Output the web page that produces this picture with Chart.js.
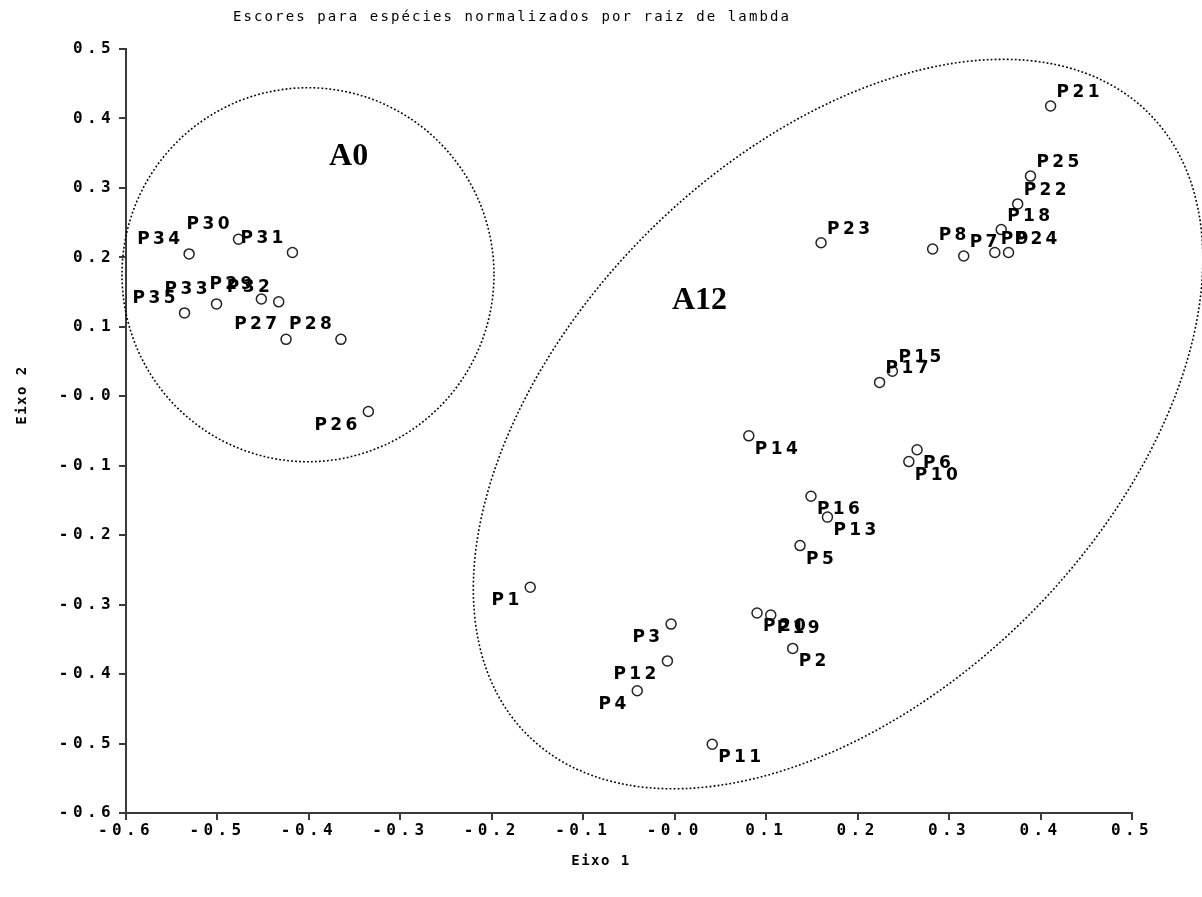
<!DOCTYPE html>
<html>
<head>
<meta charset="utf-8">
<script src="https://cdn.jsdelivr.net/npm/chart.js@4.4.1/dist/chart.umd.min.js"></script>
<style>
html,body{margin:0;padding:0;background:#ffffff;}
#wrap{width:1202px;height:897px;}
</style>
</head>
<body>
<div id="wrap"><canvas id="c" width="1202" height="897"></canvas></div>
<script>
// ---- data ----
const pointNames = ['P1','P2','P3','P4','P5','P6','P7','P8','P9','P10',
  'P11','P12','P13','P14','P15','P16','P17','P18','P19','P20',
  'P21','P22','P23','P24','P25','P26','P27','P28','P29','P30',
  'P31','P32','P33','P34','P35'];
const eixo1 = [-0.158, 0.129, -0.004, -0.041, 0.137, 0.265, 0.316, 0.282, 0.350, 0.256,
  0.041, -0.008, 0.167, 0.081, 0.238, 0.149, 0.224, 0.357, 0.105, 0.090,
  0.411, 0.375, 0.160, 0.365, 0.389, -0.335, -0.425, -0.365, -0.452, -0.477,
  -0.418, -0.433, -0.501, -0.531, -0.536];
const eixo2 = [-0.275, -0.363, -0.328, -0.424, -0.215, -0.077, 0.202, 0.212, 0.207, -0.094,
  -0.501, -0.381, -0.174, -0.057, 0.036, -0.144, 0.020, 0.240, -0.315, -0.312,
  0.418, 0.277, 0.221, 0.207, 0.317, -0.022, 0.082, 0.082, 0.140, 0.226,
  0.207, 0.136, 0.133, 0.205, 0.120];
// label side relative to its point
const labelSide = ['sw','se','sw','sw','se','se','ne','ne','ne','se',
  'se','sw','se','se','ne','se','ne','ne','se','se',
  'ne','ne','ne','ne','ne','sw','nw','nw','nw','nw',
  'nw','nw','nw','nw','nw'];
const xTickValues = [-0.6,-0.5,-0.4,-0.3,-0.2,-0.1,0,0.1,0.2,0.3,0.4,0.5];
const xTickLabels = ['-0.6','-0.5','-0.4','-0.3','-0.2','-0.1','-0.0','0.1','0.2','0.3','0.4','0.5'];
const yTickValues = [-0.6,-0.5,-0.4,-0.3,-0.2,-0.1,0,0.1,0.2,0.3,0.4,0.5];
const yTickLabels = ['-0.6','-0.5','-0.4','-0.3','-0.2','-0.1','-0.0','0.1','0.2','0.3','0.4','0.5'];
const groupNames = ['A0','A12'];
const titleText = 'Escores para espécies normalizados por raiz de lambda';
const xTitle = 'Eixo 1';
const yTitle = 'Eixo 2';

// ---- annotation geometry (not data) ----
const groupTextAt = [{x:-0.378, y:0.333},{x:-0.003, y:0.126}];
const groupEllipses = [
  {cx:-0.401, cy:0.175, rx:186, ry:187, rot:0},
  {cx:0.1786, cy:-0.040, rx:439.5, ry:270, rot:-Math.PI/4}
];

const points = eixo1.map((v,i)=>({x:v, y:eixo2[i]}));

const spacingPlugin = {
  id:'spacing',
  beforeDraw(chart){
    Object.values(chart.scales).forEach(s=>{
      if(s._wrapped) return;
      s._wrapped = true;
      const dl = s.drawLabels;
      s.drawLabels = function(a){const c=this.ctx;c.save();c.letterSpacing='4.4px';dl.call(this,a);c.restore();};
    });
  }
};

const textPlugin = {
  id:'texts',
  afterDraw(chart){
    const ctx = chart.ctx;
    ctx.save();
    ctx.fillStyle = '#000';
    ctx.textBaseline = 'middle';
    ctx.textAlign = 'center';
    ctx.font = 'normal 14px "DejaVu Sans Mono", monospace';
    ctx.letterSpacing = '2.1px';
    ctx.fillText(titleText, 512, 17);
    ctx.font = 'bold 14px "DejaVu Sans Mono", monospace';
    ctx.letterSpacing = '1.5px';
    ctx.fillText(xTitle, 601, 861);
    ctx.translate(22, 395);
    ctx.rotate(-Math.PI/2);
    ctx.fillText(yTitle, 0, 0);
    ctx.restore();
  }
};

const ellipsePlugin = {
  id:'groups',
  beforeDatasetsDraw(chart){
    const ctx = chart.ctx, xs = chart.scales.x, ys = chart.scales.y;
    ctx.save();
    ctx.strokeStyle = '#000';
    ctx.lineWidth = 1.6;
    ctx.setLineDash([1.8,2.2]);
    groupEllipses.forEach(e=>{
      ctx.beginPath();
      ctx.ellipse(xs.getPixelForValue(e.cx), ys.getPixelForValue(e.cy), e.rx, e.ry, e.rot, 0, Math.PI*2);
      ctx.stroke();
    });
    ctx.setLineDash([]);
    ctx.fillStyle = '#000';
    ctx.font = 'bold 32px "Liberation Serif", "Times New Roman", serif';
    ctx.textAlign = 'left';
    ctx.textBaseline = 'alphabetic';
    groupNames.forEach((n,i)=>{
      ctx.fillText(n, xs.getPixelForValue(groupTextAt[i].x), ys.getPixelForValue(groupTextAt[i].y));
    });
    ctx.restore();
  }
};

const labelPlugin = {
  id:'pointLabels',
  afterDatasetsDraw(chart){
    const ctx = chart.ctx;
    const meta = chart.getDatasetMeta(0);
    const sp = 3.4;
    ctx.save();
    ctx.fillStyle = '#000';
    ctx.font = 'bold 17px "DejaVu Sans", sans-serif';
    ctx.letterSpacing = sp + 'px';
    ctx.textBaseline = 'alphabetic';
    meta.data.forEach((el,i)=>{
      const side = labelSide[i];
      let tx, ty;
      if(side==='nw'){ctx.textAlign='right'; tx = el.x - 9 + sp; ty = el.y - 10;}
      else if(side==='ne'){ctx.textAlign='left'; tx = el.x + 6; ty = el.y - 9;}
      else if(side==='se'){ctx.textAlign='left'; tx = el.x + 6; ty = el.y + 18;}
      else {ctx.textAlign='right'; tx = el.x - 11 + sp; ty = el.y + 18;}
      ctx.fillText(pointNames[i], tx, ty);
    });
    ctx.restore();
  }
};

const tickFont = {family:'"DejaVu Sans Mono", monospace', size:16, weight:'bold'};
const axisColor = '#3a3a3a';

new Chart(document.getElementById('c'), {
  type:'scatter',
  data:{
    datasets:[{
      label:'Espécies',
      data: points,
      pointStyle:'circle',
      pointRadius:5,
      pointHoverRadius:5,
      pointBorderWidth:1.5,
      pointBorderColor:'#222',
      pointBackgroundColor:'rgba(255,255,255,0)',
      showLine:false
    }]
  },
  options:{
    responsive:false,
    animation:false,
    events:[],
    layout:{padding:{left:0,right:70,top:49,bottom:0}},
    plugins:{
      legend:{display:false},
      tooltip:{enabled:false},
      title:{display:false}
    },
    scales:{
      x:{
        type:'linear', position:'bottom', min:-0.6, max:0.5,
        afterBuildTicks(s){ s.ticks = xTickValues.map(v=>({value:v})); },
        afterFit(s){ s.height = 84; },
        ticks:{callback:(v,i)=>xTickLabels[i], font:tickFont, color:'#000', padding:1, maxRotation:0, autoSkip:false},
        grid:{drawOnChartArea:false, drawTicks:true, tickLength:7, color:axisColor, lineWidth:2},
        border:{display:true, color:axisColor, width:2},
        title:{display:false}
      },
      y:{
        type:'linear', position:'left', min:-0.6, max:0.5,
        afterBuildTicks(s){ s.ticks = yTickValues.map(v=>({value:v})); },
        afterFit(s){ s.width = 126; },
        ticks:{callback:(v,i)=>yTickLabels[i], font:tickFont, color:'#000', padding:4, autoSkip:false},
        grid:{drawOnChartArea:false, drawTicks:true, tickLength:7, color:axisColor, lineWidth:2},
        border:{display:true, color:axisColor, width:2},
        title:{display:false}
      }
    }
  },
  plugins:[spacingPlugin, ellipsePlugin, labelPlugin, textPlugin]
});
</script>
</body>
</html>
